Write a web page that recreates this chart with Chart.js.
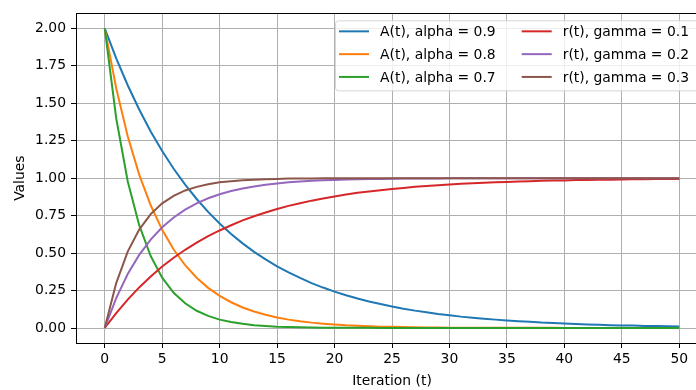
<!DOCTYPE html>
<html>
<head>
<meta charset="utf-8">
<script src="https://cdn.jsdelivr.net/npm/chart.js@4.4.1/dist/chart.umd.min.js"></script>
<style>
  html, body { margin: 0; padding: 0; overflow: hidden; background: #fff; }
  #wrap { position: relative; width: 720px; height: 390px; }
</style>
</head>
<body>
<div id="wrap"><canvas id="my-chart"></canvas></div>
<script>
const iterations = [0, 1, 2, 3, 4, 5, 6, 7, 8, 9,
  10, 11, 12, 13, 14, 15, 16, 17, 18, 19,
  20, 21, 22, 23, 24, 25, 26, 27, 28, 29,
  30, 31, 32, 33, 34, 35, 36, 37, 38, 39,
  40, 41, 42, 43, 44, 45, 46, 47, 48, 49,
  50];

// A(t) curves
const alpha09 = [2.000, 1.800, 1.620, 1.458, 1.312, 1.181, 1.063, 0.957, 0.861, 0.775,
  0.697, 0.628, 0.565, 0.508, 0.458, 0.412, 0.371, 0.334, 0.300, 0.270,
  0.243, 0.219, 0.197, 0.177, 0.160, 0.144, 0.129, 0.116, 0.105, 0.094,
  0.085, 0.076, 0.069, 0.062, 0.056, 0.050, 0.045, 0.041, 0.036, 0.033,
  0.030, 0.027, 0.024, 0.022, 0.019, 0.017, 0.016, 0.014, 0.013, 0.011,
  0.010];
const alpha08 = [2.000, 1.600, 1.280, 1.024, 0.819, 0.655, 0.524, 0.419, 0.336, 0.268,
  0.215, 0.172, 0.137, 0.110, 0.088, 0.070, 0.056, 0.045, 0.036, 0.029,
  0.023, 0.018, 0.015, 0.012, 0.009, 0.008, 0.006, 0.005, 0.004, 0.003,
  0.002, 0.002, 0.002, 0.001, 0.001, 0.001, 0.001, 0.001, 0.001, 0.001,
  0.000, 0.000, 0.000, 0.000, 0.000, 0.000, 0.000, 0.000, 0.000, 0.000,
  0.000];
const alpha07 = [2.000, 1.400, 0.980, 0.686, 0.480, 0.336, 0.235, 0.165, 0.115, 0.081,
  0.056, 0.040, 0.028, 0.019, 0.014, 0.009, 0.007, 0.005, 0.003, 0.002,
  0.002, 0.001, 0.001, 0.001, 0.000, 0.000, 0.000, 0.000, 0.000, 0.000,
  0.000, 0.000, 0.000, 0.000, 0.000, 0.000, 0.000, 0.000, 0.000, 0.000,
  0.000, 0.000, 0.000, 0.000, 0.000, 0.000, 0.000, 0.000, 0.000, 0.000,
  0.000];

// r(t) curves
const gamma01 = [0.000, 0.100, 0.190, 0.271, 0.344, 0.410, 0.469, 0.522, 0.570, 0.613,
  0.651, 0.686, 0.718, 0.746, 0.771, 0.794, 0.815, 0.833, 0.850, 0.865,
  0.878, 0.891, 0.902, 0.911, 0.920, 0.928, 0.935, 0.942, 0.948, 0.953,
  0.958, 0.962, 0.966, 0.969, 0.972, 0.975, 0.977, 0.980, 0.982, 0.984,
  0.985, 0.987, 0.988, 0.989, 0.990, 0.991, 0.992, 0.993, 0.994, 0.994,
  0.995];
const gamma02 = [0.000, 0.200, 0.360, 0.488, 0.590, 0.672, 0.738, 0.790, 0.832, 0.866,
  0.893, 0.914, 0.931, 0.945, 0.956, 0.965, 0.972, 0.977, 0.982, 0.986,
  0.988, 0.991, 0.993, 0.994, 0.995, 0.996, 0.997, 0.998, 0.998, 0.998,
  0.999, 0.999, 0.999, 0.999, 0.999, 0.999, 1.000, 1.000, 1.000, 1.000,
  1.000, 1.000, 1.000, 1.000, 1.000, 1.000, 1.000, 1.000, 1.000, 1.000,
  1.000];
const gamma03 = [0.000, 0.300, 0.510, 0.657, 0.760, 0.832, 0.882, 0.918, 0.942, 0.960,
  0.972, 0.980, 0.986, 0.990, 0.993, 0.995, 0.997, 0.998, 0.998, 0.999,
  0.999, 0.999, 1.000, 1.000, 1.000, 1.000, 1.000, 1.000, 1.000, 1.000,
  1.000, 1.000, 1.000, 1.000, 1.000, 1.000, 1.000, 1.000, 1.000, 1.000,
  1.000, 1.000, 1.000, 1.000, 1.000, 1.000, 1.000, 1.000, 1.000, 1.000,
  1.000];

const seriesLabels = ['A(t), alpha = 0.9', 'A(t), alpha = 0.8', 'A(t), alpha = 0.7',
  'r(t), gamma = 0.1', 'r(t), gamma = 0.2', 'r(t), gamma = 0.3'];
const seriesValues = [alpha09, alpha08, alpha07, gamma01, gamma02, gamma03];
const colors = ['#1f77b4', '#ff7f0e', '#2ca02c', '#d62728', '#9467bd', '#8c564b'];

const xTicks = [0, 5, 10, 15, 20, 25, 30, 35, 40, 45, 50];
const yTicks = [0, 0.25, 0.5, 0.75, 1.0, 1.25, 1.5, 1.75, 2.0];

const FONT = 'DejaVu Sans';
const FS = 13.9;

Chart.defaults.font.family = FONT;
Chart.defaults.font.size = FS;
Chart.defaults.color = '#000';

// black box round the plot area
const framePlugin = {
  id: 'frame',
  afterDatasetsDraw(chart) {
    const { ctx, chartArea: a } = chart;
    ctx.save();
    ctx.strokeStyle = '#000';
    ctx.lineWidth = 1;
    const l = Math.round(a.left) + 0.5, t = Math.round(a.top) + 0.5;
    ctx.strokeRect(l, t, Math.round(a.right) - Math.round(a.left), Math.round(a.bottom) - Math.round(a.top));
    ctx.restore();
  },
};

// two column legend, filled column by column like matplotlib
const legendPlugin = {
  id: 'mplLegend',
  afterDraw(chart) {
    const { ctx, chartArea: a } = chart;
    const ds = chart.data.datasets;
    const cols = [[0, 1, 2], [3, 4, 5]];
    const handle = 30, gap = 11, colGap = 26, rowH = 22.8;
    ctx.save();
    ctx.font = FS + 'px "' + FONT + '"';
    const colW = cols.map(c => handle + gap + Math.max(...c.map(i => ctx.measureText(ds[i].label).width)));
    const padL = 4, padR = 6;
    const w = padL + colW[0] + colGap + colW[1] + padR;
    const right = a.right - 13;
    const left = right - w;
    const top = a.top + 7;
    const h = 70;

    ctx.beginPath();
    ctx.roundRect(left + 0.5, top + 0.5, w + 8, h, 3);
    ctx.fillStyle = 'rgba(255,255,255,0.8)';
    ctx.fill();
    ctx.strokeStyle = 'rgba(204,204,204,0.8)';
    ctx.lineWidth = 1;
    ctx.stroke();

    ctx.textBaseline = 'middle';
    ctx.textAlign = 'left';
    let x = left + padL;
    cols.forEach((c, ci) => {
      c.forEach((i, ri) => {
        const y = top + 11 + ri * rowH;
        ctx.strokeStyle = ds[i].borderColor;
        ctx.lineWidth = 2;
        ctx.beginPath();
        ctx.moveTo(x, y);
        ctx.lineTo(x + handle, y);
        ctx.stroke();
        ctx.fillStyle = '#000';
        ctx.fillText(ds[i].label, x + handle + gap, y + 1);
      });
      x += colW[ci] + colGap;
    });
    ctx.restore();
  },
};

const ctx = document.getElementById('my-chart').getContext('2d');

const myChart = new Chart(ctx, {
  type: 'line',
  data: {
    datasets: seriesValues.map((vals, i) => ({
      label: seriesLabels[i],
      data: iterations.map((t, k) => ({ x: t, y: vals[k] })),
      borderColor: colors[i],
      backgroundColor: colors[i],
      borderWidth: 2,
      pointRadius: 0,
      tension: 0,
      fill: false,
      order: 5 - i,
    })),
  },
  options: {
    responsive: true,
    maintainAspectRatio: false,
    animation: false,
    layout: { padding: { top: 10, right: 12, left: 0, bottom: 0 } },
    plugins: {
      legend: { display: false },
      tooltip: { enabled: false },
    },
    scales: {
      x: {
        type: 'linear',
        min: -2.5,
        max: 52.5,
        afterBuildTicks: s => { s.ticks = xTicks.map(v => ({ value: v })); },
        afterFit: s => { s.height = 47; },
        grid: { color: '#b0b0b0', lineWidth: 1, drawTicks: true, tickLength: 5, tickColor: '#000' },
        border: { display: false },
        ticks: { padding: 3, maxRotation: 0, callback: v => String(v) },
        title: { display: true, text: 'Iteration (t)', padding: { top: 0, bottom: 0 } },
      },
      y: {
        min: -0.1,
        max: 2.1,
        afterBuildTicks: s => { s.ticks = yTicks.map(v => ({ value: v })); },
        afterFit: s => { s.width = 76; },
        grid: { color: '#b0b0b0', lineWidth: 1, drawTicks: true, tickLength: 5, tickColor: '#000' },
        border: { display: false },
        ticks: { padding: 5, callback: v => v.toFixed(2) },
        title: { display: true, text: 'Values', padding: { top: 12, bottom: 0 } },
      },
    },
  },
  plugins: [framePlugin, legendPlugin],
});
</script>
</body>
</html>
